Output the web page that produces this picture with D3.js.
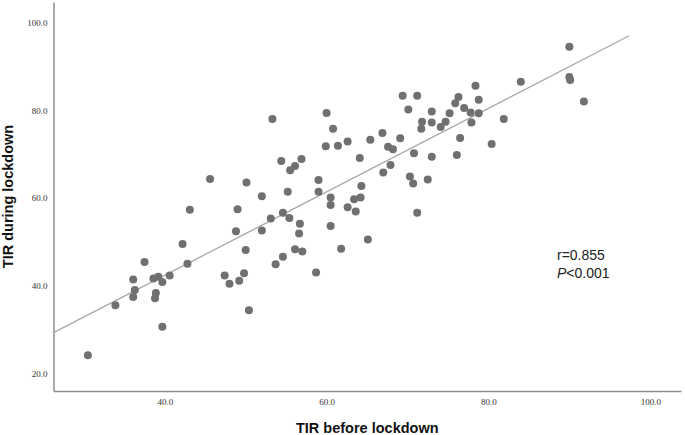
<!DOCTYPE html>
<html>
<head>
<meta charset="utf-8">
<script src="https://cdn.jsdelivr.net/npm/d3@7"></script>
<style>
  html, body { margin: 0; padding: 0; background: #fff; }
  svg { display: block; }
</style>
</head>
<body>
<svg id="chart" width="685" height="435"></svg>
<script>
// ---- data ----
const tirBefore = [30.5,33.9,36.1,36.3,36.1,37.5,38.6,39.2,39.7,38.9,38.8,39.7,40.6,42.2,42.8,43.1,
  47.4,48.0,49.2,49.8,50.0,50.4,48.8,49.0,52.0,52.0,53.1,54.6,55.4,56.7,56.6,56.1,57.0,54.6,53.7,58.7,
  60.5,60.5,60.5,62.6,63.4,64.2,63.6,61.8,65.1,71.2,50.1,45.6,53.3,54.4,55.5,56.1,56.9,55.2,59.0,59.0,
  60.0,60.8,59.9,61.4,62.6,64.1,64.3,65.4,66.9,67.6,68.2,67.0,67.9,69.1,69.4,71.2,70.1,70.8,70.3,70.7,
  72.5,73.0,73.0,71.8,71.7,73.0,74.1,74.7,75.2,75.9,76.3,76.1,76.5,78.4,78.8,77.0,77.8,78.8,77.9,80.4,
  81.9,84.0,90.0,90.0,90.1,91.8];
const tirDuring = [24.1,35.5,41.4,39.0,37.4,45.4,41.6,42.0,40.8,38.3,37.1,30.6,42.3,49.5,45.0,57.3,
  42.3,40.4,41.1,42.8,48.1,34.4,52.4,57.4,52.6,60.4,55.3,56.6,55.4,54.1,51.9,48.3,47.8,46.6,44.9,43.0,
  60.1,58.4,53.6,57.9,59.7,60.1,56.9,48.4,50.5,56.6,63.5,64.3,78.0,68.4,66.3,67.3,68.9,61.4,64.1,61.4,
  79.4,75.8,71.8,71.9,72.9,69.1,62.7,73.3,74.8,71.7,71.1,65.8,67.5,73.6,83.3,83.3,80.2,70.2,64.9,63.3,
  64.2,69.4,79.7,77.4,75.8,77.2,76.2,77.4,79.3,81.6,83.0,69.8,73.7,85.6,82.4,80.5,79.5,79.3,77.2,72.3,
  78.0,86.5,94.5,87.6,86.9,82.0];
const xTicks = [40, 60, 80, 100];
const yTicks = [20, 40, 60, 80, 100];
const xDomain = [26.25, 103.8];
const yDomain = [15.96, 104.7];
const fitSlope = 0.952;
const fitIntercept = 4.27;
const fitXEnd = 97.4;
const xTitle = "TIR before lockdown";
const yTitle = "TIR during lockdown";
const statR = "r=0.855";
const statP = "<0.001";

// ---- layout ----
const W = 685, H = 435;
const margin = {left: 53.5, top: 2, right: 4, bottom: 44};
const iw = W - margin.left - margin.right;
const ih = H - margin.top - margin.bottom;

const svg = d3.select("#chart");
const g = svg.append("g").attr("transform", `translate(${margin.left},${margin.top})`);

const x = d3.scaleLinear().domain(xDomain).range([0, iw]);
const y = d3.scaleLinear().domain(yDomain).range([ih, 0]);

const fmt = d3.format(".1f");
const axisColor = "#8c8c8c";

const xAxis = g.append("g")
  .attr("transform", `translate(0,${ih})`)
  .call(d3.axisBottom(x).tickValues(xTicks).tickFormat(fmt).tickSizeInner(0).tickSizeOuter(0).tickPadding(8));
const yAxis = g.append("g")
  .call(d3.axisLeft(y).tickValues(yTicks).tickFormat(fmt).tickSizeInner(0).tickSizeOuter(0).tickPadding(6));

[xAxis, yAxis].forEach(a => {
  a.select(".domain").attr("stroke", axisColor).attr("stroke-width", 1.5);
  a.selectAll("text")
    .attr("font-family", "'Liberation Serif', 'DejaVu Serif', serif")
    .attr("font-size", 9)
    .attr("fill", "#333");
});

// regression line
g.append("line")
  .attr("x1", x(xDomain[0])).attr("y1", y(fitIntercept + fitSlope * xDomain[0]))
  .attr("x2", x(fitXEnd)).attr("y2", y(fitIntercept + fitSlope * fitXEnd))
  .attr("stroke", "#a8a8a8").attr("stroke-width", 1.3);

// points
const pts = tirBefore.map((v, i) => ({x: v, y: tirDuring[i]}));
g.append("g").selectAll("circle").data(pts).join("circle")
  .attr("cx", d => x(d.x)).attr("cy", d => y(d.y))
  .attr("r", 4)
  .attr("fill", "#707070");

// axis titles
svg.append("text")
  .attr("x", margin.left + iw / 2).attr("y", 433)
  .attr("text-anchor", "middle")
  .attr("font-family", "'Liberation Sans', Arial, sans-serif")
  .attr("font-weight", "bold").attr("font-size", 14.5).attr("fill", "#111")
  .text(xTitle);
svg.append("text")
  .attr("transform", `translate(13,${margin.top + ih / 2}) rotate(-90)`)
  .attr("text-anchor", "middle")
  .attr("font-family", "'Liberation Sans', Arial, sans-serif")
  .attr("font-weight", "bold").attr("font-size", 14.5).attr("fill", "#111")
  .text(yTitle);

// stats annotation
const ann = svg.append("g")
  .attr("font-family", "'Liberation Sans', Arial, sans-serif")
  .attr("font-size", 14).attr("fill", "#222");
ann.append("text").attr("x", 557).attr("y", 260).text(statR);
const pt = ann.append("text").attr("x", 557).attr("y", 278);
pt.append("tspan").attr("font-style", "italic").text("P");
pt.append("tspan").text(statP);
</script>
</body>
</html>
